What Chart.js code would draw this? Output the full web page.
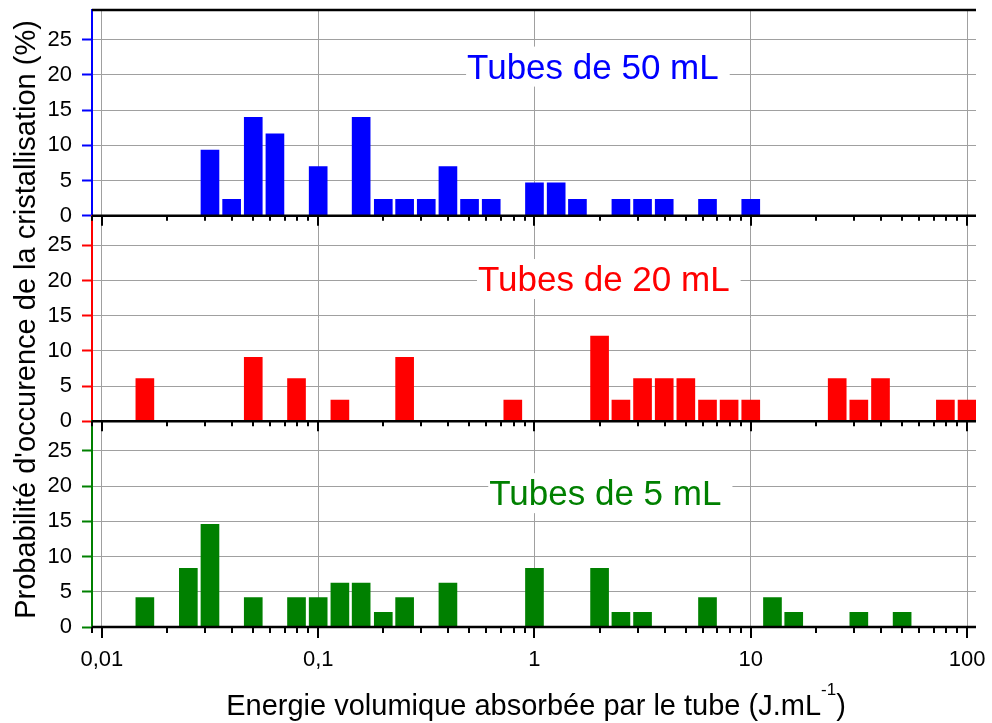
<!DOCTYPE html>
<html lang="fr">
<head>
<meta charset="utf-8">
<title>Probabilité d'occurence de la cristallisation</title>
<script src="https://cdn.jsdelivr.net/npm/chart.js@4.4.1/dist/chart.umd.min.js"></script>
<style>
  html, body { margin: 0; padding: 0; background: #fff; }
</style>
</head>
<body>
<canvas id="chart" width="992" height="723"></canvas>
<script>
// Bin centres (J/mL) and probabilities (%)
const energy50 = [0.0316, 0.0398, 0.0501, 0.0631, 0.1, 0.158, 0.2, 0.251, 0.316, 0.398, 0.501, 0.631, 1, 1.26, 1.58, 2.51, 3.16, 3.98, 6.31, 10];
const prob50 = [9.30, 2.33, 13.95, 11.63, 6.98, 13.95, 2.33, 2.33, 2.33, 6.98, 2.33, 2.33, 4.65, 4.65, 2.33, 2.33, 2.33, 2.33, 2.33, 2.33];

const energy20 = [0.0158, 0.0501, 0.0794, 0.126, 0.251, 0.794, 2.0, 2.51, 3.16, 3.98, 5.01, 6.31, 7.94, 10, 25.1, 31.6, 39.8, 79.4, 100];
const prob20 = [6.06, 9.09, 6.06, 3.03, 9.09, 3.03, 12.12, 3.03, 6.06, 6.06, 6.06, 3.03, 3.03, 3.03, 6.06, 3.03, 6.06, 3.03, 3.03];

const energy5 = [0.0158, 0.0251, 0.0316, 0.0501, 0.0794, 0.1, 0.126, 0.158, 0.2, 0.251, 0.398, 1, 2.0, 2.51, 3.16, 6.31, 12.6, 15.8, 31.6, 50.1];
const prob5 = [4.17, 8.33, 14.58, 4.17, 4.17, 4.17, 6.25, 6.25, 2.08, 4.17, 6.25, 8.33, 8.33, 2.08, 2.08, 4.17, 4.17, 2.08, 2.08, 2.08];

const panelTitles = ['Tubes de 50 mL', 'Tubes de 20 mL', 'Tubes de 5 mL'];
const panelColors = ['#0000ff', '#ff0000', '#008000'];
const xTicks = [0.01, 0.1, 1, 10, 100];
const xTickLabels = ['0,01', '0,1', '1', '10', '100'];
const yTicks = [0, 5, 10, 15, 20, 25];
const yTitle = "Probabilité d'occurence de la cristallisation (%)";
const xTitle = 'Energie volumique absorbée par le tube (J.mL';
const xTitleSup = '-1';

const FAMILY = "'Liberation Sans', Arial, sans-serif";
const GRID = '#a0a0a0';

function line(ctx, x1, y1, x2, y2) {
    ctx.beginPath();
    ctx.moveTo(x1, y1);
    ctx.lineTo(x2, y2);
    ctx.stroke();
}

// Panel frames, minor log ticks and the boxed titles
const panelPlugin = {
    id: 'panels',
    afterDatasetsDraw(chart, args, opts) {
        const ctx = chart.ctx;
        const area = chart.chartArea;
        const xs = chart.scales.x;
        ctx.save();
        ctx.strokeStyle = '#000';
        ctx.lineWidth = 2.5;
        line(ctx, area.left, area.top, area.right, area.top);

        opts.axes.forEach((id, i) => {
            const y = chart.scales[id].getPixelForValue(0);
            const last = i === opts.axes.length - 1;
            ctx.lineWidth = 2.5;
            line(ctx, area.left, y, area.right, y);
            ctx.lineWidth = 2;
            for (let e = -3; e <= 2; e++) {
                for (let m = 1; m <= 9; m++) {
                    const v = m * Math.pow(10, e);
                    if (v < xs.min || v > xs.max) continue;
                    const px = Math.round(xs.getPixelForValue(v));
                    const len = (m === 1 ? 10 : 5) + (last ? 1 : 0);
                    line(ctx, px, y, px, y + len);
                }
            }
        });

        ctx.font = '35px ' + FAMILY;
        ctx.textBaseline = 'alphabetic';
        ctx.textAlign = 'left';
        opts.axes.forEach((id, i) => {
            const left = xs.getPixelForValue(opts.titleX[i]);
            const base = chart.scales[id].getPixelForValue(opts.titleY[i]);
            const w = ctx.measureText(panelTitles[i]).width;
            ctx.fillStyle = '#fff';
            ctx.fillRect(left - 1, base - 32, w + 12, 40);
            ctx.fillStyle = panelColors[i];
            ctx.fillText(panelTitles[i], left, base);
        });
        ctx.restore();
    },
    afterDraw(chart) {
        const ctx = chart.ctx;
        const area = chart.chartArea;
        ctx.save();
        ctx.fillStyle = '#000';

        // y title
        ctx.font = '29px ' + FAMILY;
        ctx.textAlign = 'center';
        ctx.textBaseline = 'alphabetic';
        ctx.translate(35, (area.top + area.bottom) / 2 + 1);
        ctx.rotate(-Math.PI / 2);
        ctx.fillText(yTitle, 0, 0);
        ctx.setTransform(1, 0, 0, 1, 0, 0);

        // x title with superscript
        ctx.textAlign = 'left';
        ctx.font = '29px ' + FAMILY;
        const w1 = ctx.measureText(xTitle).width;
        const w3 = ctx.measureText(')').width;
        ctx.font = '17px ' + FAMILY;
        const w2 = ctx.measureText(xTitleSup).width;
        let x = 536 - (w1 + w2 + w3) / 2;
        ctx.font = '29px ' + FAMILY;
        ctx.fillText(xTitle, x, 715);
        x += w1;
        ctx.font = '17px ' + FAMILY;
        ctx.fillText(xTitleSup, x, 695);
        x += w2;
        ctx.font = '29px ' + FAMILY;
        ctx.fillText(')', x, 715);
        ctx.restore();
    }
};

function yScale(color, weight) {
    return {
        type: 'linear',
        position: 'left',
        stack: 'panels',
        stackWeight: 1,
        weight: weight,
        min: 0,
        max: 29.2,
        afterBuildTicks: s => { s.ticks = yTicks.map(v => ({ value: v })); },
        afterFit: s => {
            s.width = 92;
            s.paddingTop = 0;
            s.paddingBottom = 0;
        },
        grid: {
            color: c => (c.tick && c.tick.value === 0 ? 'rgba(0,0,0,0)' : GRID),
            lineWidth: 1,
            tickColor: color,
            tickLength: 10,
            tickWidth: 2
        },
        border: { color: color, width: 2 },
        ticks: { font: { family: FAMILY, size: 22 }, color: '#000', padding: 10, autoSkip: false }
    };
}

function series(xs, ys, color, axis) {
    return {
        data: xs.map((v, i) => ({ x: v, y: ys[i] })),
        backgroundColor: color,
        borderWidth: 0,
        barThickness: 18,
        grouped: false,
        xAxisID: 'x',
        yAxisID: axis
    };
}

new Chart(document.getElementById('chart'), {
    type: 'bar',
    data: {
        datasets: [
            series(energy50, prob50, panelColors[0], 'y50'),
            series(energy20, prob20, panelColors[1], 'y20'),
            series(energy5, prob5, panelColors[2], 'y5')
        ]
    },
    options: {
        responsive: false,
        animation: false,
        layout: { padding: { top: 10, right: 16, left: 0, bottom: 0 } },
        plugins: {
            legend: { display: false },
            tooltip: { enabled: false },
            panels: {
                axes: ['y50', 'y20', 'y5'],
                titleX: [0.488, 0.548, 0.618],
                titleY: [19.46, 18.5, 17.3]
            }
        },
        scales: {
            x: {
                type: 'logarithmic',
                position: 'bottom',
                min: 0.009,
                max: 110,
                offset: false,
                afterBuildTicks: s => { s.ticks = xTicks.map(v => ({ value: v })); },
                afterFit: s => {
                    s.height = 96;
                    s.paddingLeft = 0;
                    s.paddingRight = 0;
                },
                grid: { color: GRID, lineWidth: 1, drawTicks: false, offset: false },
                border: { display: false },
                ticks: {
                    font: { family: FAMILY, size: 22 },
                    color: '#000',
                    padding: 20,
                    autoSkip: false,
                    maxRotation: 0,
                    callback: (v, i) => xTickLabels[i]
                }
            },
            y50: yScale(panelColors[0], 3),
            y20: yScale(panelColors[1], 2),
            y5: yScale(panelColors[2], 1)
        }
    },
    plugins: [panelPlugin]
});
</script>
</body>
</html>
